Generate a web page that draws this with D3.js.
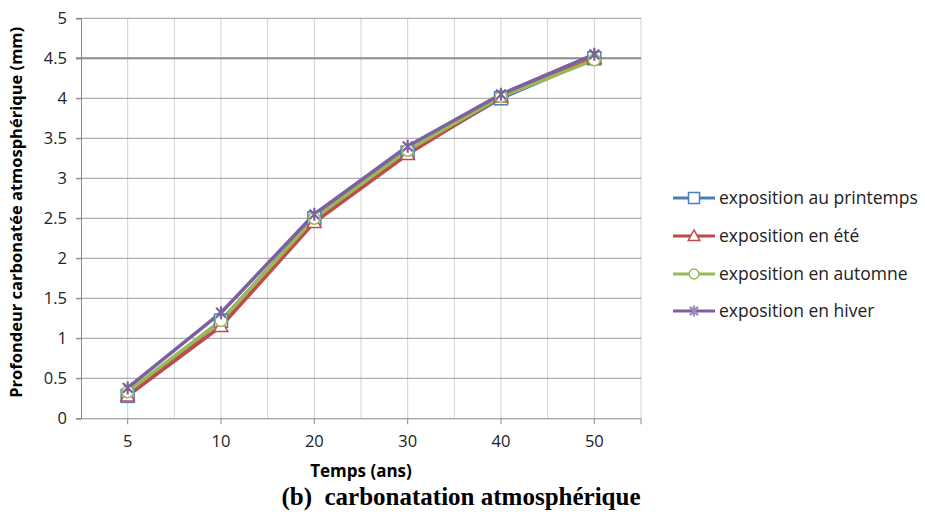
<!DOCTYPE html>
<html><head><meta charset="utf-8">
<script src="https://cdn.jsdelivr.net/npm/d3@7"></script>
<style>body{margin:0;background:#fff}svg{display:block}text{font-family:"Open Sans","Noto Sans",sans-serif}</style>
</head><body>
<svg id="c" width="925" height="516"></svg>
<script>
const categories = ["5","10","20","30","40","50"];
const yTicks = [0,0.5,1,1.5,2,2.5,3,3.5,4,4.5,5];
const seriesNames = ["exposition au printemps","exposition en été","exposition en automne","exposition en hiver"];
const printemps = [0.28,1.22,2.50,3.32,4.00,4.50];
const ete = [0.28,1.15,2.45,3.30,4.02,4.50];
const automne = [0.33,1.22,2.50,3.35,4.02,4.48];
const hiver = [0.38,1.32,2.55,3.40,4.05,4.55];
const colors = ["#4a7ebb","#be4b48","#98b954","#7d60a0"];
const markers = ["square","triangle","circle","star"];

const svg = d3.select("#c");
const L=81, R=641, T=18.3, B=418.3;
const x = d3.scaleBand().domain(categories).range([L,R]);
const y = d3.scaleLinear().domain([0,5]).range([B,T]);

const vlines = [];
categories.forEach((c,i)=>{ if(i>0) vlines.push(x(c)); vlines.push(x(c)+x.bandwidth()/2); });
vlines.push(R);
svg.append("g").selectAll("line").data(vlines).join("line")
  .attr("x1",d=>d).attr("x2",d=>d).attr("y1",T).attr("y2",B)
  .attr("stroke","#d0d0d0").attr("stroke-width",1);
svg.append("g").selectAll("line").data(yTicks.filter(d=>d>0)).join("line")
  .attr("x1",L-5).attr("x2",R).attr("y1",d=>y(d)).attr("y2",d=>y(d))
  .attr("stroke",d=>d===4.5?"#8a8a8a":"#9a9a9a").attr("stroke-width",d=>d===4.5?2:1);

const ya = svg.append("g").attr("transform",`translate(${L},0)`)
  .call(d3.axisLeft(y).tickValues(yTicks).tickSize(5).tickFormat(d3.format("")));
ya.select(".domain").attr("stroke","#8a8a8a");
ya.selectAll(".tick line").attr("stroke","#8a8a8a");
ya.selectAll(".tick text").attr("font-size",16.5).attr("fill","#222").attr("x",-14);
const xa = svg.append("g").attr("transform",`translate(0,${B})`)
  .call(d3.axisBottom(x).tickSize(6).tickSizeOuter(0));
xa.select(".domain").attr("stroke","#8a8a8a").attr("d",`M${L-5},0.5H${R}`);
xa.selectAll(".tick line").attr("stroke","#8a8a8a");
xa.selectAll(".tick text").attr("font-size",16.5).attr("fill","#222").attr("y",17);
svg.append("g").selectAll("line").data([R]).join("line")
  .attr("x1",d=>d).attr("x2",d=>d).attr("y1",B).attr("y2",B+6).attr("stroke","#8a8a8a");

const data = [printemps,ete,automne,hiver];
const line = d3.line().x((d,i)=>x(categories[i])+x.bandwidth()/2).y(d=>y(d));

function drawMarker(g, type, color, cx, cy, s){
  if(type==="square") g.append("rect").attr("x",cx-s).attr("y",cy-s).attr("width",2*s).attr("height",2*s)
      .attr("fill","#fff").attr("stroke",color).attr("stroke-width",1.5);
  else if(type==="triangle") g.append("path").attr("d",`M${cx},${cy-s*1.1}L${cx+s*1.05},${cy+s*0.8}L${cx-s*1.05},${cy+s*0.8}Z`)
      .attr("fill","#fff").attr("stroke",color).attr("stroke-width",1.5);
  else if(type==="circle") g.append("circle").attr("cx",cx).attr("cy",cy).attr("r",s*0.9)
      .attr("fill","#fff").attr("stroke",color).attr("stroke-width",1.5);
  else { const r=s;
    g.append("path").attr("d",`M${cx-r*0.75},${cy-r*0.75}L${cx+r*0.75},${cy+r*0.75}M${cx-r*0.75},${cy+r*0.75}L${cx+r*0.75},${cy-r*0.75}M${cx},${cy-r}L${cx},${cy+r}`)
      .attr("fill","none").attr("stroke",color).attr("stroke-width",2.2);
  }
}

data.forEach((vals,k)=>{
  svg.append("path").datum(vals).attr("d",line).attr("fill","none")
    .attr("stroke",colors[k]).attr("stroke-width",3.6).attr("stroke-linejoin","round");
});
data.forEach((vals,k)=>{
  const g = svg.append("g");
  vals.forEach((v,i)=>drawMarker(g,markers[k],colors[k],x(categories[i])+x.bandwidth()/2,y(v),6.5));
});

const lg = svg.append("g");
const ly = [198,236,274,311];
seriesNames.forEach((n,k)=>{
  lg.append("line").attr("x1",673).attr("x2",715).attr("y1",ly[k]).attr("y2",ly[k])
    .attr("stroke",colors[k]).attr("stroke-width",3);
  drawMarker(lg,markers[k],k===3?"#9c8ac0":colors[k],694,ly[k],5.5);
  lg.append("text").attr("x",719).attr("y",ly[k]).attr("dy","0.35em")
    .attr("font-size",17.5).attr("fill","#222").text(n);
});

svg.append("text").attr("transform",`translate(22,${(T+B)/2-6}) rotate(-90)`)
  .attr("text-anchor","middle").attr("font-size",16.5).attr("font-weight","bold").attr("fill","#000")
  .text("Profondeur carbonatée atmosphérique (mm)");
svg.append("text").attr("x",361).attr("y",477).attr("text-anchor","middle")
  .attr("font-size",17).attr("font-weight","bold").attr("fill","#000").text("Temps (ans)");
svg.append("text").attr("x",461).attr("y",505).attr("text-anchor","middle")
  .style("font-family","'Liberation Serif','Times New Roman',serif").style("white-space","pre")
  .attr("font-size",25).attr("font-weight","bold").attr("fill","#000").text("(b)  carbonatation atmosphérique");
</script>
</body></html>
